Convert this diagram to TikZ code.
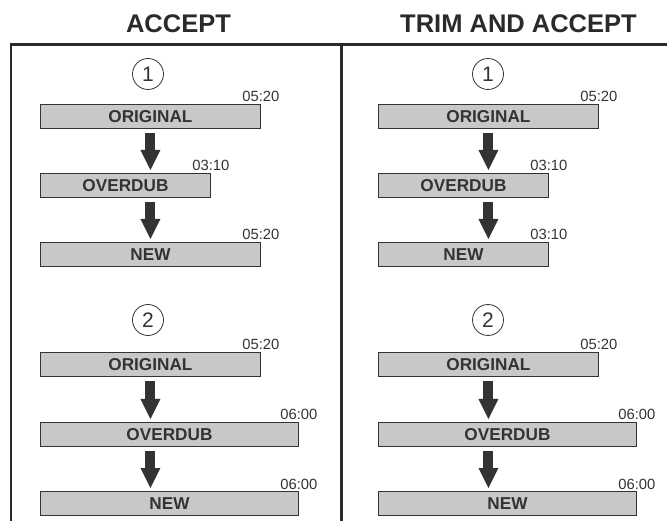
\documentclass[tikz,border=0pt]{standalone}
\usepackage{fontspec}
\setmainfont{Liberation Sans}
\usetikzlibrary{arrows.meta, positioning, calc}
\definecolor{boxgray}{HTML}{C8C8C8}
\definecolor{inkgray}{HTML}{333333}
\definecolor{framegray}{HTML}{2A2A2A}

\begin{document}
\begin{tikzpicture}[
    x=1pt, y=1pt,
    bar/.style={draw=inkgray, fill=boxgray, line width=0.9pt, minimum height=24pt, inner sep=0pt, anchor=north west, text=inkgray, font=\fontsize{17.2}{20}\selectfont\bfseries},
    stamp/.style={anchor=base, inner sep=0pt, text=inkgray, font=\fontsize{14.8}{17}\selectfont},
    numcirc/.style={circle, draw=inkgray, line width=0.8pt, minimum size=31pt, inner sep=0pt, text=inkgray, font=\fontsize{21}{24}\selectfont},
    heading/.style={text=framegray, font=\fontsize{25.5}{30}\selectfont\bfseries},
    down/.style={draw=inkgray, line width=10pt, -{Triangle[length=20pt, width=20pt, line width=0pt]}}
  ]
  \useasboundingbox (0,0) rectangle (667,-521);

  % Frame
  \draw[framegray, line width=2.2pt] (11,-521) -- (11,-44.5) -- (667,-44.5);
  \draw[framegray, line width=3pt] (341.5,-44.5) -- (341.5,-521);

  \node[heading] (accept) at (178.5,-24) {ACCEPT};
  \node[heading] (trim) at (518.5,-24) {TRIM AND ACCEPT};

  % Left: accept
  \node[numcirc] (n1a) at (148,-74) {1};
  \node[bar, minimum width=220pt] (orig1a) at (40,-104) {ORIGINAL};
  \node[bar, minimum width=170pt] (dub1a) at (40,-173) {OVERDUB};
  \node[bar, minimum width=220pt] (new1a) at (40,-242) {NEW};
  \node[stamp] (t1a) at ([yshift=2pt]orig1a.north east) {05:20};
  \node[stamp] (t2a) at ([yshift=2pt]dub1a.north east) {03:10};
  \node[stamp] (t3a) at ([yshift=2pt]new1a.north east) {05:20};
  \draw[down] ([yshift=-4pt]orig1a.south) -- ($(orig1a.south |- dub1a.north)+(0,3)$);
  \draw[down] ($(orig1a.south |- dub1a.south)+(0,-4)$) -- ($(orig1a.south |- new1a.north)+(0,3)$);

  \node[numcirc] (n2a) at (148,-320) {2};
  \node[bar, minimum width=220pt] (orig2a) at (40,-352) {ORIGINAL};
  \node[bar, minimum width=258pt] (dub2a) at (40,-422) {OVERDUB};
  \node[bar, minimum width=258pt] (new2a) at (40,-491) {NEW};
  \node[stamp] (t4a) at ([yshift=2pt]orig2a.north east) {05:20};
  \node[stamp] (t5a) at ([yshift=2pt]dub2a.north east) {06:00};
  \node[stamp] (t6a) at ([yshift=2pt]new2a.north east) {06:00};
  \draw[down] ([yshift=-4pt]orig2a.south) -- ($(orig2a.south |- dub2a.north)+(0,3)$);
  \draw[down] ($(orig2a.south |- dub2a.south)+(0,-4)$) -- ($(orig2a.south |- new2a.north)+(0,3)$);

  % Right: trim and accept
  \node[numcirc] (n1b) at (488,-74) {1};
  \node[bar, minimum width=220pt] (orig1b) at (378,-104) {ORIGINAL};
  \node[bar, minimum width=170pt] (dub1b) at (378,-173) {OVERDUB};
  \node[bar, minimum width=170pt] (new1b) at (378,-242) {NEW};
  \node[stamp] (t1b) at ([yshift=2pt]orig1b.north east) {05:20};
  \node[stamp] (t2b) at ([yshift=2pt]dub1b.north east) {03:10};
  \node[stamp] (t3b) at ([yshift=2pt]new1b.north east) {03:10};
  \draw[down] ([yshift=-4pt]orig1b.south) -- ($(orig1b.south |- dub1b.north)+(0,3)$);
  \draw[down] ($(orig1b.south |- dub1b.south)+(0,-4)$) -- ($(orig1b.south |- new1b.north)+(0,3)$);

  \node[numcirc] (n2b) at (488,-320) {2};
  \node[bar, minimum width=220pt] (orig2b) at (378,-352) {ORIGINAL};
  \node[bar, minimum width=258pt] (dub2b) at (378,-422) {OVERDUB};
  \node[bar, minimum width=258pt] (new2b) at (378,-491) {NEW};
  \node[stamp] (t4b) at ([yshift=2pt]orig2b.north east) {05:20};
  \node[stamp] (t5b) at ([yshift=2pt]dub2b.north east) {06:00};
  \node[stamp] (t6b) at ([yshift=2pt]new2b.north east) {06:00};
  \draw[down] ([yshift=-4pt]orig2b.south) -- ($(orig2b.south |- dub2b.north)+(0,3)$);
  \draw[down] ($(orig2b.south |- dub2b.south)+(0,-4)$) -- ($(orig2b.south |- new2b.north)+(0,3)$);
\end{tikzpicture}
\end{document}
